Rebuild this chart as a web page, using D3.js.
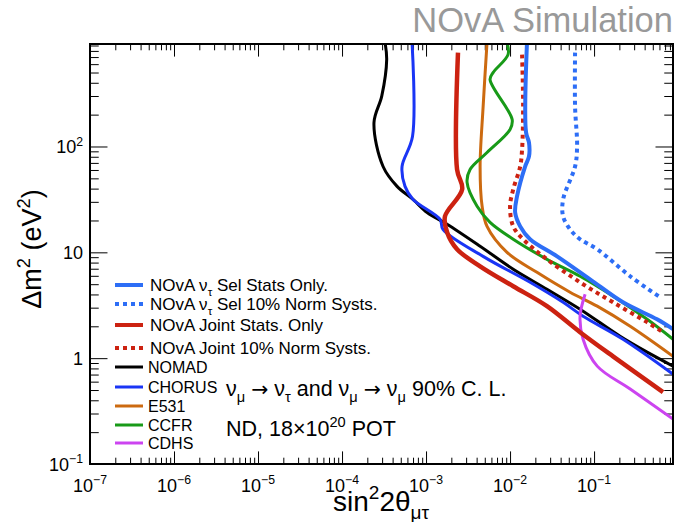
<!DOCTYPE html>
<html>
<head>
<meta charset="utf-8">
<script src="https://cdn.jsdelivr.net/npm/d3@7"></script>
<style>
  body { margin: 0; background: #fff; }
  svg { font-family: "Liberation Sans", Arial, Helvetica, sans-serif; }
</style>
</head>
<body>
<div id="chart"></div>
<script>
// exclusion contours, points are [sin^2 2theta, delta m^2]
var NOVA_SEL_STATS = [
    [1.59e-2, 960], [1.55e-2, 136], [1.68e-2, 109], [1.68e-2, 80.5], [1.51e-2, 64.7],
    [1.21e-2, 33.7], [1.15e-2, 23.8], [1.32e-2, 17.6], [1.73e-2, 13.3], [3.63e-2, 9.16],
    [8.95e-2, 5.56], [0.221, 3.37], [0.562, 2.33], [0.871, 1.88]
];
var NOVA_SEL_SYST = [
    [5.94e-2, 771], [5.94e-2, 238], [6.28e-2, 100], [5.94e-2, 64.7], [4.28e-2, 31.6],
    [4.28e-2, 21.9], [5.18e-2, 16.5], [6.81e-2, 13.3], [0.109, 10.7], [0.269, 5.94],
    [0.611, 3.76]
];
var NOVA_JOINT_STATS = [
    [2.40e-3, 771], [2.34e-3, 60.7], [2.69e-3, 39.3], [1.68e-3, 21.9], [1.78e-3, 15.5],
    [2.34e-3, 10.7], [4.40e-3, 7.38], [1.09e-2, 4.78], [2.75e-2, 3.10], [6.81e-2, 1.76],
    [0.168, 1.04], [0.662, 0.478]
];
var NOVA_JOINT_SYST = [
    [1.39e-2, 738], [1.43e-2, 238], [1.39e-2, 93.8], [1.32e-2, 64.7], [1.09e-2, 39.3],
    [1.0e-2, 27.2], [1.09e-2, 17.6], [1.43e-2, 13.3], [2.75e-2, 8.59], [6.81e-2, 5.21],
    [0.168, 3.37], [0.428, 2.19], [0.662, 1.76]
];
var NOMAD = [
    [3.25e-4, 960], [3.40e-4, 662], [2.97e-4, 299], [2.40e-4, 168], [3.08e-4, 64.7],
    [4.52e-4, 42.0], [7.0e-4, 31.6], [1.03e-3, 23.8], [1.78e-3, 18.4], [4.40e-3, 11.4],
    [1.09e-2, 6.92], [2.75e-2, 4.48], [6.81e-2, 2.90], [0.204, 1.61], [0.428, 1.14],
    [0.871, 0.841]
];
var CHORUS = [
    [6.81e-4, 960], [6.9e-4, 124], [5.18e-4, 64.7], [5.62e-4, 42.0], [7.0e-4, 31.6],
    [1.47e-3, 20.5], [1.59e-3, 16.5], [4.78e-3, 9.16], [1.73e-2, 5.21], [4.28e-2, 3.37],
    [7.40e-2, 2.49], [0.221, 1.51], [0.871, 0.706]
];
var E531 = [
    [5.32e-3, 960], [4.78e-3, 238], [4.40e-3, 64.7], [4.65e-3, 27.2], [5.32e-3, 17.6],
    [9.2e-3, 10], [2.09e-2, 6.47], [5.18e-2, 4.20], [0.109, 3.10], [0.269, 2.00],
    [0.871, 1.04]
];
var CCFR = [
    [9.2e-3, 960], [9.46e-3, 738], [6.28e-3, 499], [5.78e-3, 429], [1.06e-2, 180],
    [1.0e-2, 145], [5.32e-3, 87.7], [3.34e-3, 60.7], [3.08e-3, 45.7], [4.05e-3, 27.2],
    [5.78e-3, 19.2], [1.09e-2, 13.3], [2.75e-2, 8.59], [6.81e-2, 5.94], [0.168, 3.85],
    [0.428, 2.33], [0.871, 1.51]
];
var CDHS = [
    [7.82e-2, 4.02], [6.81e-2, 2.49], [7.40e-2, 1.51], [0.109, 0.841], [0.269, 0.511],
    [0.871, 0.266]
];

// legend labels, same order as the series
var LABELS = [
    "NOvA ν_{τ} Sel Stats Only.",
    "NOvA ν_{τ} Sel 10% Norm Systs.",
    "NOvA Joint Stats. Only",
    "NOvA Joint 10% Norm Systs.",
    "NOMAD", "CHORUS", "E531", "CCFR", "CDHS"
];
var X_TICKS = [1e-7, 1e-6, 1e-5, 1e-4, 1e-3, 1e-2, 1e-1];
var X_TICK_LABELS = ["10^{−7}", "10^{−6}", "10^{−5}", "10^{−4}", "10^{−3}", "10^{−2}", "10^{−1}"];
var Y_TICKS = [0.1, 1, 10, 100];
var Y_TICK_LABELS = ["10^{−1}", "1", "10", "10^{2}"];

// write text with _{sub} and ^{sup} parts as tspans, arrows in a wider font
function rich(text, str, fs) {
    var parts = str.split(/([_^]\{[^}]*\}|→)/);
    var shift = 0;
    parts.forEach(function (p) {
        if (!p) return;
        var m = p.match(/^([_^])\{([^}]*)\}$/);
        if (m) {
            var d = m[1] === "_" ? fs * 0.3 : -fs * 0.42;
            text.append("tspan").attr("dy", d - shift).attr("font-size", fs * 0.68).text(m[2]);
            shift = d;
        } else if (p === "→") {
            text.append("tspan").attr("dy", -shift)
                .attr("font-family", "DejaVu Sans").attr("font-size", fs * 0.95).text(p);
            shift = 0;
        } else {
            text.append("tspan").attr("dy", -shift).text(p);
            shift = 0;
        }
    });
}

function drawChart() {
    var W = 675, H = 522;
    var margin = { top: 44, right: 2, bottom: 58, left: 90 };
    var width = W - margin.left - margin.right;
    var height = H - margin.top - margin.bottom;

    var svg = d3.select("#chart").append("svg")
        .attr("width", W).attr("height", H);
    var chart = svg.append("g")
        .attr("transform", "translate(" + margin.left + "," + margin.top + ")");

    var x = d3.scaleLog().domain([1e-7, 0.87]).range([0, width]);
    var y = d3.scaleLog().domain([0.1, 930]).range([height, 0]);

    // minor tick values 2..9 per decade
    var xMinor = x.ticks().filter(function (v) { return X_TICKS.indexOf(v) < 0 && v < 0.87; });
    var yMinor = y.ticks().filter(function (v) { return Y_TICKS.indexOf(v) < 0 && v < 930; });

    var xMaj = 0.03 * height, yMaj = 0.03 * width;

    function axisG(axis) {
        var g = chart.append("g").call(axis);
        g.select(".domain").remove();
        g.selectAll("line").attr("stroke", "#000").attr("stroke-width", 1);
        g.selectAll("text").remove();
        return g;
    }
    // bottom + top
    axisG(d3.axisBottom(x).tickValues(X_TICKS).tickSize(-xMaj)).attr("transform", "translate(0," + height + ")");
    axisG(d3.axisBottom(x).tickValues(xMinor).tickSize(-xMaj / 2)).attr("transform", "translate(0," + height + ")");
    axisG(d3.axisTop(x).tickValues(X_TICKS).tickSize(-xMaj));
    axisG(d3.axisTop(x).tickValues(xMinor).tickSize(-xMaj / 2));
    // left + right
    axisG(d3.axisLeft(y).tickValues(Y_TICKS).tickSize(-yMaj));
    axisG(d3.axisLeft(y).tickValues(yMinor).tickSize(-yMaj / 2));
    axisG(d3.axisRight(y).tickValues(Y_TICKS).tickSize(-yMaj)).attr("transform", "translate(" + width + ",0)");
    axisG(d3.axisRight(y).tickValues(yMinor).tickSize(-yMaj / 2)).attr("transform", "translate(" + width + ",0)");

    // tick labels
    X_TICKS.forEach(function (v, i) {
        var t = chart.append("text")
            .attr("x", x(v)).attr("y", height + 28)
            .attr("text-anchor", "middle")
            .attr("font-size", 18);
        rich(t, X_TICK_LABELS[i], 18);
    });
    Y_TICKS.forEach(function (v, i) {
        var t = chart.append("text")
            .attr("x", -7).attr("y", y(v) + 7)
            .attr("text-anchor", "end")
            .attr("font-size", 18);
        rich(t, Y_TICK_LABELS[i], 18);
    });

    // axis titles
    var xt = svg.append("text")
        .attr("x", 381).attr("y", 511)
        .attr("text-anchor", "middle")
        .attr("font-size", 28);
    rich(xt, "sin^{2}2θ_{μτ}", 28);
    var yt = svg.append("text")
        .attr("transform", "translate(41,249) rotate(-90)")
        .attr("text-anchor", "middle")
        .attr("font-size", 27);
    rich(yt, "Δm^{2} (eV^{2})", 27);

    // curves
    var series = [
        { data: NOVA_SEL_STATS, color: "#2d6ef6", width: 4, dash: null },
        { data: NOVA_SEL_SYST, color: "#2d6ef6", width: 4, dash: "4,4" },
        { data: NOVA_JOINT_STATS, color: "#cc2211", width: 4.5, dash: null },
        { data: NOVA_JOINT_SYST, color: "#cc2211", width: 4, dash: "4,4" },
        { data: NOMAD, color: "#000000", width: 3, dash: null },
        { data: CHORUS, color: "#1a35f5", width: 3, dash: null },
        { data: E531, color: "#cc6a10", width: 3, dash: null },
        { data: CCFR, color: "#189a18", width: 3, dash: null },
        { data: CDHS, color: "#cc44f0", width: 3, dash: null }
    ];

    chart.append("clipPath").attr("id", "clip")
        .append("rect").attr("width", width).attr("height", height);

    var line = d3.line()
        .x(function (d) { return x(d[0]); })
        .y(function (d) { return y(d[1]); })
        .curve(d3.curveCatmullRom.alpha(0.5));

    var curves = chart.append("g").attr("clip-path", "url(#clip)");
    // draw experiments first, NOvA on top
    [4, 5, 6, 7, 8, 3, 1, 0, 2].forEach(function (i) {
        var s = series[i];
        curves.append("path")
            .datum(s.data)
            .attr("d", line)
            .attr("fill", "none")
            .attr("stroke", s.color)
            .attr("stroke-width", s.width)
            .attr("stroke-dasharray", s.dash);
    });

    // frame
    chart.append("rect")
        .attr("width", width).attr("height", height)
        .attr("fill", "none").attr("stroke", "#000").attr("stroke-width", 2);

    // legend
    var legendY = [285, 304, 325, 348, 367, 387, 406, 425, 443];
    LABELS.forEach(function (lab, i) {
        var s = series[i];
        var g = svg.append("g").attr("transform", "translate(0," + legendY[i] + ")");
        g.append("line")
            .attr("x1", 115).attr("x2", 143)
            .attr("stroke", s.color)
            .attr("stroke-width", i < 4 ? 4 : 3)
            .attr("stroke-dasharray", s.dash);
        var fs = i < 4 ? 17 : 16;
        var t = g.append("text")
            .attr("x", i < 4 ? 150 : 148).attr("y", 6)
            .attr("font-size", fs);
        rich(t, lab, fs);
    });

    // annotations
    var a1 = svg.append("text").attr("x", 226).attr("y", 396).attr("font-size", 21.5);
    rich(a1, "ν_{μ} → ν_{τ} and ν_{μ} → ν_{μ} 90% C. L.", 21.5);
    var a2 = svg.append("text").attr("x", 226).attr("y", 436).attr("font-size", 21.5);
    rich(a2, "ND, 18×10^{20} POT", 21.5);

    // title
    svg.append("text")
        .attr("x", 673).attr("y", 32)
        .attr("text-anchor", "end")
        .attr("font-size", 34.5)
        .attr("fill", "#999999")
        .text("NOvA Simulation");
}

window.onload = function () {
    drawChart();
};
</script>
</body>
</html>
